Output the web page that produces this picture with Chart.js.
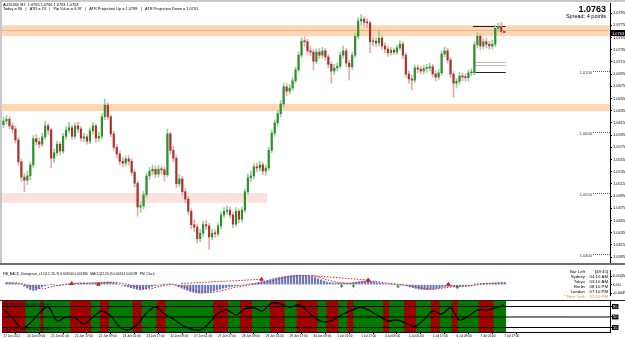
<!DOCTYPE html>
<html>
<head>
<meta charset="utf-8">
<script src="https://cdn.jsdelivr.net/npm/chart.js@4.4.1/dist/chart.umd.min.js"></script>
<style>
  html, body { margin: 0; padding: 0; background: #fff; }
  #wrap { position: relative; width: 625px; height: 339px; overflow: hidden; background: #fff; }
  canvas { position: absolute; left: 0; }
  #main { top: 0; }
  #macd { top: 265px; }
  #osc { top: 301px; }
  .bar { position: absolute; left: 0; }
</style>
</head>
<body>
<div id="wrap">
  <canvas id="main" width="625" height="263"></canvas>
  <div class="bar" style="top:263px;width:625px;height:2px;background:#6e6e6e"></div>
  <canvas id="macd" width="625" height="35"></canvas>
  <div class="bar" style="top:300px;width:625px;height:1px;background:#222"></div>
  <canvas id="osc" width="625" height="38"></canvas>
  <div class="bar" style="top:0;width:625px;height:2px;background:#c8c8c8"></div>
  <div class="bar" style="top:0;width:2px;height:263px;background:#c8c8c8"></div>
</div>
<script>
// AUDUSD candles, one every 2 hours
var opens = [1.0612,1.0618,1.0621,1.0610,1.0605,1.0587,1.0551,1.0526,1.0521,1.0528,
  1.0546,1.0589,1.0584,1.0580,1.0592,1.0610,1.0603,1.0557,1.0566,1.0580,
  1.0569,1.0593,1.0603,1.0607,1.0593,1.0610,1.0605,1.0590,1.0592,1.0585,
  1.0602,1.0610,1.0590,1.0593,1.0625,1.0644,1.0625,1.0597,1.0575,1.0564,
  1.0552,1.0549,1.0556,1.0552,1.0534,1.0516,1.0477,1.0479,1.0497,1.0528,
  1.0536,1.0539,1.0531,1.0539,1.0538,1.0530,1.0597,1.0570,1.0557,1.0515,
  1.0523,1.0502,1.0490,1.0470,1.0448,1.0444,1.0425,1.0434,1.0448,1.0446,
  1.0428,1.0434,1.0433,1.0446,1.0464,1.0470,1.0472,1.0464,1.0449,1.0470,
  1.0457,1.0472,1.0502,1.0525,1.0528,1.0543,1.0541,1.0546,1.0536,1.0541,
  1.0570,1.0598,1.0615,1.0630,1.0646,1.0674,1.0667,1.0672,1.0684,1.0702,
  1.0726,1.0749,1.0748,1.0733,1.0731,1.0716,1.0731,1.0726,1.0733,1.0723,
  1.0711,1.0700,1.0705,1.0708,1.0726,1.0733,1.0713,1.0707,1.0726,1.0757,
  1.0782,1.0785,1.0780,1.0779,1.0748,1.0749,1.0746,1.0754,1.0741,1.0736,
  1.0730,1.0734,1.0731,1.0738,1.0744,1.0726,1.0695,1.0687,1.0685,1.0705,
  1.0703,1.0700,1.0704,1.0705,1.0707,1.0695,1.0690,1.0697,1.0728,1.0733,
  1.0718,1.0695,1.0680,1.0683,1.0692,1.0690,1.0689,1.0697,1.0698,1.0743,
  1.0757,1.0741,1.0748,1.0744,1.0741,1.0744,1.0770,1.0772,1.0765];
var highs = [1.0624,1.0627,1.0625,1.0615,1.0609,1.0591,1.0556,1.0532,1.0536,1.0551,
  1.0594,1.0596,1.0590,1.0598,1.0618,1.0614,1.0606,1.0572,1.0585,1.0584,
  1.0598,1.0609,1.0616,1.0611,1.0615,1.0616,1.0609,1.0598,1.0596,1.0607,
  1.0616,1.0613,1.0600,1.0630,1.0654,1.0648,1.0628,1.0601,1.0580,1.0569,
  1.0558,1.0561,1.0561,1.0556,1.0538,1.0519,1.0486,1.0503,1.0533,1.0542,
  1.0546,1.0544,1.0545,1.0544,1.0542,1.0605,1.0600,1.0577,1.0561,1.0530,
  1.0527,1.0507,1.0494,1.0474,1.0456,1.0449,1.0440,1.0454,1.0455,1.0450,
  1.0441,1.0440,1.0451,1.0469,1.0476,1.0479,1.0477,1.0468,1.0476,1.0474,
  1.0477,1.0507,1.0531,1.0536,1.0548,1.0549,1.0552,1.0550,1.0546,1.0575,
  1.0603,1.0620,1.0636,1.0652,1.0680,1.0679,1.0678,1.0689,1.0707,1.0731,
  1.0755,1.0756,1.0752,1.0740,1.0735,1.0736,1.0737,1.0739,1.0737,1.0727,
  1.0715,1.0711,1.0714,1.0731,1.0741,1.0737,1.0718,1.0731,1.0762,1.0787,
  1.0792,1.0789,1.0786,1.0782,1.0756,1.0755,1.0767,1.0758,1.0746,1.0740,
  1.0739,1.0738,1.0742,1.0750,1.0748,1.0730,1.0700,1.0693,1.0710,1.0710,
  1.0708,1.0709,1.0711,1.0713,1.0711,1.0700,1.0703,1.0733,1.0739,1.0737,
  1.0722,1.0699,1.0688,1.0698,1.0697,1.0695,1.0702,1.0704,1.0748,1.0763,
  1.0761,1.0753,1.0754,1.0749,1.0751,1.0775,1.0778,1.0780,1.0766];
var lows = [1.0607,1.0613,1.0605,1.0598,1.0582,1.0546,1.0519,1.0502,1.0514,1.0522,
  1.0541,1.0578,1.0574,1.0576,1.0588,1.0596,1.0541,1.0550,1.0561,1.0563,
  1.0565,1.0588,1.0598,1.0588,1.0589,1.0599,1.0585,1.0584,1.0580,1.0581,
  1.0597,1.0583,1.0585,1.0589,1.0620,1.0620,1.0592,1.0570,1.0558,1.0546,
  1.0543,1.0544,1.0546,1.0529,1.0510,1.0462,1.0468,1.0474,1.0492,1.0522,
  1.0530,1.0525,1.0526,1.0531,1.0519,1.0526,1.0564,1.0551,1.0509,1.0510,
  1.0496,1.0484,1.0464,1.0441,1.0437,1.0418,1.0420,1.0429,1.0440,1.0408,
  1.0423,1.0427,1.0429,1.0441,1.0459,1.0465,1.0459,1.0443,1.0445,1.0451,
  1.0452,1.0468,1.0498,1.0519,1.0523,1.0535,1.0536,1.0530,1.0529,1.0537,
  1.0566,1.0593,1.0610,1.0625,1.0641,1.0660,1.0662,1.0668,1.0680,1.0698,
  1.0722,1.0741,1.0727,1.0725,1.0702,1.0712,1.0720,1.0721,1.0718,1.0705,
  1.0680,1.0694,1.0700,1.0704,1.0721,1.0707,1.0685,1.0703,1.0722,1.0753,
  1.0776,1.0773,1.0771,1.0730,1.0741,1.0740,1.0741,1.0736,1.0730,1.0724,
  1.0726,1.0727,1.0727,1.0734,1.0720,1.0690,1.0680,1.0669,1.0681,1.0697,
  1.0695,1.0695,1.0698,1.0700,1.0690,1.0684,1.0686,1.0693,1.0723,1.0713,
  1.0689,1.0657,1.0672,1.0678,1.0684,1.0683,1.0684,1.0692,1.0694,1.0738,
  1.0735,1.0736,1.0738,1.0735,1.0736,1.0740,1.0765,1.0761,1.0763];
var closes = [1.0618,1.0621,1.0610,1.0605,1.0587,1.0551,1.0526,1.0521,1.0528,1.0546,
  1.0589,1.0584,1.0580,1.0592,1.0610,1.0603,1.0557,1.0566,1.0580,1.0569,
  1.0593,1.0603,1.0607,1.0593,1.0610,1.0605,1.0590,1.0592,1.0585,1.0602,
  1.0610,1.0590,1.0593,1.0625,1.0644,1.0625,1.0597,1.0575,1.0564,1.0552,
  1.0549,1.0556,1.0552,1.0534,1.0516,1.0477,1.0479,1.0497,1.0528,1.0536,
  1.0539,1.0531,1.0539,1.0538,1.0530,1.0597,1.0570,1.0557,1.0515,1.0523,
  1.0502,1.0490,1.0470,1.0448,1.0444,1.0425,1.0434,1.0448,1.0446,1.0428,
  1.0434,1.0433,1.0446,1.0464,1.0470,1.0472,1.0464,1.0449,1.0470,1.0457,
  1.0472,1.0502,1.0525,1.0528,1.0543,1.0541,1.0546,1.0536,1.0541,1.0570,
  1.0598,1.0615,1.0630,1.0646,1.0674,1.0667,1.0672,1.0684,1.0702,1.0726,
  1.0749,1.0748,1.0733,1.0731,1.0716,1.0731,1.0726,1.0733,1.0723,1.0711,
  1.0700,1.0705,1.0708,1.0726,1.0733,1.0713,1.0707,1.0726,1.0757,1.0782,
  1.0785,1.0780,1.0779,1.0748,1.0749,1.0746,1.0754,1.0741,1.0736,1.0730,
  1.0734,1.0731,1.0738,1.0744,1.0726,1.0695,1.0687,1.0685,1.0705,1.0703,
  1.0700,1.0704,1.0705,1.0707,1.0695,1.0690,1.0697,1.0728,1.0733,1.0718,
  1.0695,1.0680,1.0683,1.0692,1.0690,1.0689,1.0697,1.0698,1.0743,1.0757,
  1.0741,1.0748,1.0744,1.0741,1.0744,1.0770,1.0772,1.0765,1.0763];

// time labels, one every 8 candles
var timeLabels = ["17 Jun 2011","20 Jun 09:00","21 Jun 01:00","21 Jun 17:00","22 Jun 09:00","23 Jun 01:00",
  "23 Jun 17:00","24 Jun 09:00","27 Jun 01:00","27 Jun 17:00","28 Jun 09:00","29 Jun 01:00","29 Jun 17:00",
  "30 Jun 09:00","1 Jul 01:00","1 Jul 17:00","4 Jul 09:00","5 Jul 01:00","5 Jul 17:00","6 Jul 09:00",
  "7 Jul 01:00","7 Jul 17:00"];
var timeStep = 8;

// price axis
var priceTicks = [1.0795,1.0775,1.0755,1.0735,1.0715,1.0695,1.0675,1.0655,1.0635,1.0615,1.0595,
  1.0575,1.0555,1.0535,1.0515,1.0495,1.0475,1.0455,1.0435,1.0415,1.0395];

// zones and levels
var zoneLows = [1.0757, 1.0634, 1.0484];
var zoneHighs = [1.0775, 1.0646, 1.0500];
var zoneEndBar = [null, null, 88];
var zoneMidLine = [1.0767];
var roundLevels = [1.0700, 1.0600, 1.0500, 1.0400];
var projLevels = [1.0773, 1.0699];
var projMinor = [1.0715, 1.0710];
var projFromBar = 158;

// MACD histogram in pips
var macdHist = [10,10,9,7,4,0,
  -8,-18,-26,-30,-28,-20,-12,
  -6,-2,2,0,-3,-2,0,3,5,
  6,7,8,9,9,8,8,9,10,
  10,11,13,14,13,10,
  6,2,-3,-8,-12,-16,
  -20,-24,-27,-26,-22,-16,-10,
  -6,-3,-1,1,2,4,3,
  -4,-12,-18,-24,-30,-36,-40,-44,-45,-45,-43,-40,-36,-32,
  -28,-24,-19,-15,-12,-9,-7,-5,
  -3,-1,2,4,6,8,
  12,16,19,23,27,31,35,
  38,41,44,46,48,49,50,50,49,48,
  46,42,37,31,25,19,14,
  11,9,8,8,8,8,7,
  8,10,13,16,18,19,18,16,13,
  10,8,6,4,3,2,1,
  0,-1,-3,-7,-12,
  -16,-20,-23,-25,-26,-26,-25,-23,-20,-17,
  -13,-10,-9,-9,-10,-10,-9,-8,-7,-5,-3,
  1,4,6,7,8,8,9,9,10,10,11];
// signal line, one value every 4 candles
var macdSignal = [9,8,-6,-22,-8,0,6,8,10,12,4,-12,-22,-8,1,-12,-32,-42,-34,-18,-6,3,14,30,42,48,44,26,11,8,14,17,8,2,-5,-18,-24,-16,-10,-7,2,7,9];
var signalStep = 4;
var divLines = [[59, 6, 86, 28], [103, 47, 122, 24]];
var macdUpBars = [22, 31, 86, 122, 149];
var macdUpVals = [6, 2, 28, 24, 2];
var macdDnBars = [113, 117, 132, 152];
var macdDnVals = [-7, -7, -9, -14];

// oscillator, one value every 3 candles
var oscVals = [77,47,13,30,63,83,37,50,47,27,50,70,53,17,7,27,63,83,60,43,
  23,10,7,30,63,73,57,77,80,70,97,93,83,90,70,43,33,43,60,73,
  83,70,53,37,40,30,20,40,70,60,80,40,53,73,73,80,90];
var oscStep = 3;
var oscLevels = [85, 50, 15];
var oscRuns = [['r',8],['g',5],['r',1],['g',9],['r',7],['g',3],['r',3],['g',8],['r',3],['g',5],['r',3],['g',16],
  ['r',5],['g',4],['r',4],['g',6],['r',5],['g',4],['r',7],['g',3],['r',4],['g',3],['r',2],['g',10],['r',2],
  ['g',5],['r',4],['g',5],['r',3],['g',4],['r',2],['g',7],['r',5],['g',4]];

// texts
var symbolLine = "AUDUSD,H1  1.0765 1.0766 1.0763 1.0763";
var infoLine = "Today = 90   |   ATR = 74   |   Pip Value = 6.97   |   ATR Projection Up = 1.0789   |   ATR Projection Down = 1.0701";
var bidText = "1.0763";
var spreadText = "Spread: 4 points";
var macdTitle = "FIB_MACD_Divergence_v1.1(12, 26, 9) 0.001940 0.001380   MACD(12,26,9) 0.00134 0.00138   PM, Clock";
var clockNames = ["Bar Left", "Sydney", "Tokyo", "Berlin", "London", "* New York"];
var clockTimes = ["[48:45]", "04:10 AM", "03:10 AM", "08:10 PM", "07:10 PM", "02:10 PM"];
var oscTitle = "FIB_DSS(13,8) 86.4834 83.0147";
var copyText = "\u00a9 2001-2011 MetaQuotes Software Corp.";

var SLOTS = 204;
var FONT = '"Liberation Sans", Arial, sans-serif';
Chart.defaults.font.family = FONT;

var idx = closes.map(function (c, i) { return i; });
var bull = idx.map(function (i) { return closes[i] >= opens[i]; });

function xAxis(show) {
  return { type: "linear", min: -0.5, max: SLOTS - 0.5, offset: false, display: show };
}
function rightAxis(min, max, ticks, fmt, extra) {
  var ax = {
    position: "right", min: min, max: max,
    afterBuildTicks: function (s) { s.ticks = ticks.map(function (v) { return { value: v }; }); },
    afterFit: function (s) { s.width = 15; s.paddingTop = 0; s.paddingBottom = 0; },
    ticks: { font: { size: 4 }, color: "#000", padding: 1, callback: fmt },
    grid: { drawOnChartArea: false, tickLength: 2, color: "#000" },
    border: { color: "#000" }
  };
  if (extra) Object.assign(ax.ticks, extra);
  return ax;
}

//main price panel: zones, round levels, texts
var mainDecor = {
  id: "mainDecor",
  beforeDatasetsDraw: function (chart) {
    var ctx = chart.ctx, a = chart.chartArea, x = chart.scales.x, y = chart.scales.y;
    ctx.save();
    for (var k = 0; k < zoneLows.length; k++) {
      var top = y.getPixelForValue(zoneHighs[k]), bot = y.getPixelForValue(zoneLows[k]);
      var right = zoneEndBar[k] == null ? a.right : x.getPixelForValue(zoneEndBar[k] + 0.5);
      ctx.fillStyle = zoneEndBar[k] == null ? "#fcd7b3" : "#fde1df";
      ctx.fillRect(a.left, top, right - a.left, bot - top);
    }
    ctx.strokeStyle = "#eab48a";
    ctx.lineWidth = 1;
    zoneMidLine.forEach(function (v) {
      var py = Math.round(y.getPixelForValue(v)) + 0.5;
      ctx.beginPath(); ctx.moveTo(a.left, py); ctx.lineTo(a.right, py); ctx.stroke();
    });
    ctx.setLineDash([1, 1]);
    ctx.strokeStyle = "#666";
    ctx.fillStyle = "#333";
    ctx.font = "4px " + FONT;
    ctx.textAlign = "right";
    ctx.textBaseline = "middle";
    roundLevels.forEach(function (v) {
      var py = Math.round(y.getPixelForValue(v)) + 0.5;
      ctx.beginPath(); ctx.moveTo(a.right - 17, py); ctx.lineTo(a.right, py); ctx.stroke();
      ctx.fillText(v.toFixed(4), a.right - 18, py + 1);
    });
    ctx.setLineDash([]);
    var x0 = x.getPixelForValue(projFromBar - 0.5), x1 = x.getPixelForValue(closes.length - 0.5);
    ctx.strokeStyle = "#222";
    projLevels.forEach(function (v) {
      var py = Math.round(y.getPixelForValue(v)) + 0.5;
      ctx.beginPath(); ctx.moveTo(x0, py); ctx.lineTo(x1, py); ctx.stroke();
    });
    ctx.strokeStyle = "#bbb";
    projMinor.forEach(function (v) {
      var py = Math.round(y.getPixelForValue(v)) + 0.5;
      ctx.beginPath(); ctx.moveTo(x0 + 2, py); ctx.lineTo(x1, py); ctx.stroke();
    });
    ctx.restore();
  },
  afterDraw: function (chart) {
    var ctx = chart.ctx, a = chart.chartArea, y = chart.scales.y;
    ctx.save();
    ctx.fillStyle = "#000";
    ctx.textAlign = "left";
    ctx.textBaseline = "alphabetic";
    ctx.font = "3.9px " + FONT;
    ctx.fillText(symbolLine, 3, 5.5);
    ctx.fillText(infoLine, 3, 9.8);
    ctx.textAlign = "right";
    ctx.font = "bold 9px " + FONT;
    ctx.fillText(bidText, 606, 11.5);
    ctx.font = "5.5px " + FONT;
    ctx.fillText(spreadText, 606, 17.5);
    var py = Math.round(y.getPixelForValue(closes[closes.length - 1]));
    ctx.fillStyle = "#000";
    ctx.fillRect(a.right + 1, py - 3, 14, 6);
    ctx.fillStyle = "#fff";
    ctx.textAlign = "left";
    ctx.textBaseline = "middle";
    ctx.font = "4px " + FONT;
    ctx.fillText(bidText, a.right + 2, py + 0.5);
    ctx.restore();
  }
};

new Chart(document.getElementById("main"), {
  type: "bar",
  data: {
    datasets: [
      {
        data: idx.map(function (i) { return { x: i, y: [lows[i], highs[i]] }; }),
        backgroundColor: idx.map(function (i) { return bull[i] ? "#9ccf9c" : "#e2acac"; }),
        barThickness: 1, grouped: false, order: 2
      },
      {
        data: idx.map(function (i) { return { x: i, y: [opens[i], closes[i]] }; }),
        backgroundColor: idx.map(function (i) { return bull[i] ? "#2b8f2b" : "#a8322e"; }),
        barThickness: 1.5, minBarLength: 1, grouped: false, order: 1
      }
    ]
  },
  options: {
    responsive: false, animation: false, devicePixelRatio: 1,
    layout: { padding: { left: 2, top: 3, right: 0, bottom: 0 } },
    plugins: { legend: { display: false }, tooltip: { enabled: false } },
    scales: {
      x: xAxis(false),
      y: rightAxis(1.03852, 1.08115, priceTicks, function (v) { return v.toFixed(4); })
    }
  },
  plugins: [mainDecor]
});

//MACD panel
var macdDecor = {
  id: "macdDecor",
  afterDraw: function (chart) {
    var ctx = chart.ctx;
    ctx.save();
    ctx.fillStyle = "#000";
    ctx.textBaseline = "alphabetic";
    ctx.textAlign = "left";
    ctx.font = "3.2px " + FONT;
    ctx.fillText(macdTitle, 3, 9.5);
    ctx.font = "4.3px " + FONT;
    for (var k = 0; k < clockNames.length; k++) {
      var by = 7.5 + k * 5;
      ctx.fillStyle = k === clockNames.length - 1 ? "#e39a2d" : "#000";
      ctx.textAlign = "right";
      ctx.fillText(clockNames[k], 585, by);
      ctx.fillText(clockTimes[k], 608, by);
    }
    ctx.restore();
  }
};

var macdSets = [
  {
    data: idx.map(function (i) { return { x: i, y: macdHist[i] }; }),
    backgroundColor: "#6b78bd", barThickness: 1.5, order: 3
  },
  {
    type: "line",
    data: macdSignal.map(function (v, k) { return { x: k * signalStep, y: v }; }),
    borderColor: "#d42020", borderWidth: 1, borderDash: [1.5, 1.5], pointRadius: 0, tension: 0.3, order: 1
  }
];
divLines.forEach(function (l) {
  macdSets.push({
    type: "line", data: [{ x: l[0], y: l[1] }, { x: l[2], y: l[3] }],
    borderColor: "#d42020", borderWidth: 1, borderDash: [1.5, 1.5], pointRadius: 0, order: 1
  });
});
macdSets.push({
  type: "line", showLine: false,
  data: macdUpBars.map(function (b, k) { return { x: b, y: macdUpVals[k] }; }),
  pointStyle: "triangle", pointRadius: 2, backgroundColor: "#d42020", borderColor: "#d42020", order: 0
});
macdSets.push({
  type: "line", showLine: false,
  data: macdDnBars.map(function (b, k) { return { x: b, y: macdDnVals[k] }; }),
  pointStyle: "cross", pointRadius: 1.6, borderWidth: 1, borderColor: "#1c8a1c", order: 0
});

new Chart(document.getElementById("macd"), {
  type: "bar",
  data: { datasets: macdSets },
  options: {
    responsive: false, animation: false, devicePixelRatio: 1,
    layout: { padding: { left: 2, top: 0, right: 0, bottom: 0 } },
    plugins: { legend: { display: false }, tooltip: { enabled: false } },
    scales: {
      x: xAxis(false),
      y: rightAxis(-54.375, 76.875, [45, 0, -45], function (v) { return v === 0 ? "0.00" : (v / 10000).toFixed(5); })
    }
  },
  plugins: [macdDecor]
});

//oscillator panel with coloured trend background
var oscState = [];
oscRuns.forEach(function (r) { for (var n = 0; n < r[1]; n++) oscState.push(r[0]); });

var oscDecor = {
  id: "oscDecor",
  afterDraw: function (chart) {
    var ctx = chart.ctx, a = chart.chartArea;
    ctx.save();
    ctx.fillStyle = "#111";
    ctx.textAlign = "left";
    ctx.textBaseline = "alphabetic";
    ctx.font = "3.2px " + FONT;
    ctx.fillText(oscTitle, 3, 4.5);
    ctx.fillText(copyText, 3, a.bottom - 2.5);
    ctx.restore();
  }
};

var oscSets = [
  {
    data: idx.map(function (i) { return { x: i, y: [0, 103.3] }; }),
    backgroundColor: oscState.map(function (s) { return s === "r" ? "#a50000" : "#007b00"; }),
    barThickness: 3.1, order: 5
  },
  {
    type: "line",
    data: oscVals.map(function (v, k) { return { x: k * oscStep, y: v }; }),
    borderColor: "#000", borderWidth: 1.3, pointRadius: 0, tension: 0.35, order: 0
  }
];
oscLevels.forEach(function (v) {
  oscSets.push({
    type: "line", data: [{ x: -0.5, y: v }, { x: SLOTS - 0.5, y: v }],
    borderColor: "#000", borderWidth: 1, pointRadius: 0, order: 1
  });
});

var oscY = rightAxis(0, 103.3, oscLevels, function (v) { return String(v); },
  { color: "#fff", showLabelBackdrop: true, backdropColor: "#000", backdropPadding: { top: 0, bottom: 0, left: 1, right: 1 } });

new Chart(document.getElementById("osc"), {
  type: "bar",
  data: { datasets: oscSets },
  options: {
    responsive: false, animation: false, devicePixelRatio: 1,
    layout: { padding: { left: 2, top: 0, right: 0, bottom: 0 } },
    plugins: { legend: { display: false }, tooltip: { enabled: false } },
    scales: {
      x: {
        type: "linear", min: -0.5, max: SLOTS - 0.5, offset: false,
        afterBuildTicks: function (s) { s.ticks = timeLabels.map(function (t, k) { return { value: k * timeStep }; }); },
        afterFit: function (s) { s.height = 7; s.paddingLeft = 0; s.paddingRight = 0; },
        ticks: {
          autoSkip: false, maxRotation: 0, minRotation: 0, align: "start", padding: 0.5,
          font: { size: 3.1 }, color: "#000",
          callback: function (v, i) { return timeLabels[i]; }
        },
        grid: { drawOnChartArea: false, tickLength: 2, color: "#000" },
        border: { color: "#000" }
      },
      y: oscY
    }
  },
  plugins: [oscDecor]
});
</script>
</body>
</html>
